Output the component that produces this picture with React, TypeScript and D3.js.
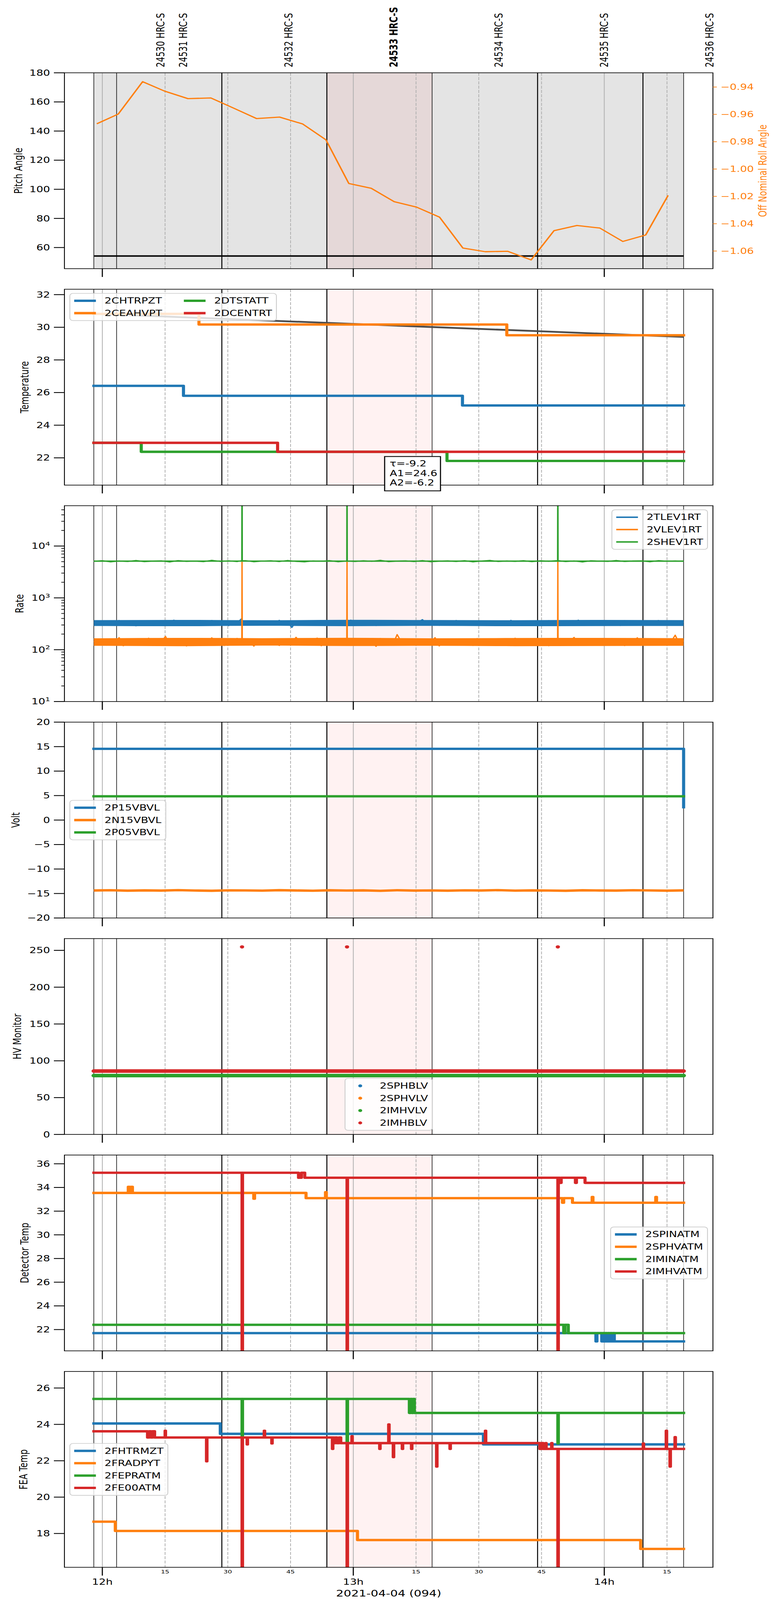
import * as d3 from 'd3';

// ---- layout (reference frame 2000 x 5400) ----
const W = 2000;
const H = 5400;
const LEFT = 165;
const RIGHT = 1825.7;
const TOP0 = 245.7;
const STEP = 730.5;
const PH = 661;
const FS = 27.8;
const FONT = 'DejaVu Sans';

const C = { blue: '#1f77b4', orange: '#ff7f0e', green: '#2ca02c', red: '#d62728' };

// ---- time axis: minutes after 12:00, 2021-04-04 ----
const T_MIN = -9.06;
const T_MAX = 145.98;
const T_START = -2.03;
const T_END = 138.97;

const hourTicks = [0, 60, 120];
const hourLabels = ['12h', '13h', '14h'];
const quarterTicks = [15, 30, 45, 75, 90, 105, 135];
const quarterLabels = ['15', '30', '45', '15', '30', '45', '15'];

const obsids = ['24530', '24531', '24532', '24533', '24534', '24535', '24536'];
const obsStarts = [-2.03, 3.41, 28.57, 53.68, 78.84, 104.06, 129.25];
const focusObsid = '24533';
const eventLines = [-2.03, 3.41, 28.57, 53.68, 78.84, 104.06, 129.25, 138.97];
const eventWidths = [1.5, 1.5, 2.5, 2.5, 1.5, 2.5, 2.5, 1.5];
const OBS_LABEL_SHIFT = 15.96;

// ---- panel 1: attitude ----
const rollTimes = [-1.32, 3.81, 9.64, 14.88, 20.47, 25.95, 31.43, 36.9, 42.38, 47.86, 53.45, 58.93, 64.29,
  69.77, 75.13, 80.61, 86.2, 91.56, 96.92, 102.51, 107.99, 113.47, 118.95, 124.43, 129.9, 135.26];
const rollValues = [-0.9669, -0.9598, -0.9361, -0.943, -0.9485, -0.948, -0.9555, -0.9631, -0.962, -0.967,
  -0.9786, -1.0106, -1.0141, -1.0239, -1.0279, -1.0352, -1.0578, -1.0605, -1.0602, -1.0665, -1.0451,
  -1.0413, -1.0432, -1.053, -1.0483, -1.0193];
const pitch: [number, number][] = [[-2.03, 54.2], [138.97, 54.2]];

// ---- panel 2: temperature (step change points) ----
const chtrpzt: [number, number][] = [[-2.03, 26.41], [19.4, 25.8], [86.1, 25.21]];
const ceahvpt: [number, number][] = [[-2.03, 30.82], [23.1, 30.17], [96.7, 29.51]];
const dtstatt: [number, number][] = [[-2.03, 22.92], [9.3, 22.37], [82.4, 21.81]];
const dcentrt: [number, number][] = [[-2.03, 22.92], [41.9, 22.37]];
const tempFit: [number, number][] = [[-2.03, 30.83], [53.68, 30.27], [104.06, 29.76], [138.97, 29.41]];
const fitText = ['τ=-9.2', 'A1=24.6', 'A2=-6.2'];

// ---- panel 3: rates ----
const tlev1rt = [
  338, 305, 352, 297, 343, 318, 366, 301, 331, 349, 288, 356, 314, 341, 299, 361, 322, 346, 306, 372,
  319, 337, 294, 359, 311, 348, 326, 300, 367, 333, 315, 351, 291, 345, 328, 392, 304, 335, 321, 356,
  298, 343, 325, 309, 369, 330, 348, 268, 353, 317, 338, 362, 305, 334, 323, 350, 296, 357, 312, 341,
  327, 373, 301, 346, 318, 337, 355, 293, 342, 326, 364, 308, 332, 352, 299, 347, 321, 339, 381, 314,
  331, 358, 295, 344, 324, 311, 367, 333, 350, 302, 336, 320, 360, 297, 345, 329, 315, 353, 306, 369,
  325, 342, 292, 356, 318, 335, 348, 304, 363, 328, 313, 351, 299, 340, 323, 372, 309, 346, 332, 317,
  357, 301, 341, 326, 349, 294, 364, 320, 338, 310, 353, 329, 346, 307, 367, 322, 340, 314, 351, 327,
  343,
];
const vlev1rt = [
  146, 128, 161, 122, 152, 137, 171, 119, 144, 158, 126, 149, 133, 167, 121, 155, 140, 181, 124, 150,
  136, 163, 118, 148, 131, 159, 142, 125, 170, 139, 153, 121, 146, 134, 166, 128, 151, 143, 117, 160,
  138, 149, 127, 162, 120, 145, 156, 131, 174, 137, 124, 152, 141, 168, 119, 147, 133, 158, 126, 144,
  155, 122, 161, 139, 130, 150, 145, 116, 165, 135, 148, 127, 196, 141, 123, 157, 136, 162, 129, 147,
  140, 171, 118, 153, 134, 145, 126, 160, 138, 149, 121, 164, 132, 151, 143, 127, 158, 137, 146, 120,
  167, 131, 150, 141, 124, 156, 135, 148, 119, 162, 139, 128, 153, 144, 173, 122, 147, 136, 159, 130,
  142, 157, 125, 164, 138, 149, 120, 152, 133, 170, 127, 145, 161, 136, 148, 123, 155, 141, 191, 129,
  150,
];
const shev1rt = [
  5080, 5210, 4950, 5150, 5020, 5260, 4990, 5120, 5180, 4930, 5240, 5060, 5130, 4980, 5300, 5040, 5170, 5010, 5220, 4960,
  5110, 5190, 5000, 5270, 5050, 4940, 5160, 5090, 5230, 4970, 5140, 5030, 5200, 5070, 5310, 4990, 5120, 5180, 5010, 5250,
  4960, 5100, 5170, 5040, 5220, 4950, 5130, 5280, 5020, 5150, 5060, 5210, 4980, 5190, 5080, 5240, 5000, 5160, 4930, 5200,
  5110, 5050, 5260, 5020, 5140, 5180, 4970, 5230, 5090, 5150, 5070,
];
// dense core of each noisy rate trace (low, high), read at the obsid boundaries
const tlevCoreLo = [287, 284, 289, 285, 288, 284, 286, 287];
const tlevCoreHi = [372, 376, 370, 377, 373, 371, 375, 372];
const vlevCoreLo = [119, 117, 120, 118, 119, 117, 118, 119];
const vlevCoreHi = [166, 169, 167, 170, 166, 168, 169, 167];
const shevCoreLo = [4960, 4950, 4970, 4955, 4960, 4950, 4965, 4960];
const shevCoreHi = [5260, 5280, 5270, 5275, 5265, 5280, 5270, 5260];
const vlevSpikes: [number, number][] = [[33.4, 4900], [58.5, 4900], [108.9, 4900]];
const shevSpikes: [number, number][] = [[33.4, 1e6], [58.5, 1e6], [108.9, 1e6]];

// ---- panel 4: voltages ----
const p15vbvl: [number, number][] = [[-2.03, 14.55], [138.97, 2.63]];
const p05vbvl: [number, number][] = [[-2.03, 4.85]];
const n15vbvl = [
  -14.38, -14.33, -14.42, -14.36, -14.4, -14.31, -14.39, -14.44, -14.35, -14.37, -14.41, -14.32,
  -14.38, -14.43, -14.34, -14.39, -14.36, -14.45, -14.33, -14.4, -14.37, -14.42, -14.35, -14.38,
  -14.31, -14.41, -14.36, -14.39, -14.44, -14.34, -14.38, -14.4, -14.33, -14.37, -14.42, -14.36,
];

// ---- panel 5: HV monitor ----
const imhblvLevel = 86.1;
const imhvlvLevel = 79.9;
const imhblvOutliers: [number, number][] = [[33.4, 254.7], [58.5, 254.7], [108.9, 254.7]];

// ---- panel 6: detector temps ----
const spinatm: [number, number][] = [[-2.03, 21.7], [118.0, 21.0], [118.25, 21.7], [119.4, 21.0], [119.7, 21.7],
  [120.0, 21.0], [120.3, 21.7], [120.6, 21.0], [120.9, 21.7], [121.2, 21.0], [121.5, 21.7], [121.8, 21.0],
  [122.1, 21.7], [122.4, 21.0]];
const sphvatm: [number, number][] = [[-2.03, 33.54], [6.2, 34.05], [6.5, 33.54], [6.9, 34.05], [7.2, 33.54],
  [36.2, 33.05], [36.4, 33.54], [48.7, 33.1], [53.35, 33.6], [53.55, 33.1], [110.0, 32.71], [110.3, 33.1],
  [112.4, 32.71], [117.1, 33.2], [117.3, 32.71], [132.3, 33.2], [132.5, 32.71]];
const iminatm: [number, number][] = [[-2.03, 22.4], [110.3, 21.7], [110.6, 22.4], [111.4, 21.7]];
const imhvatm: [number, number][] = [[-2.03, 35.24], [46.9, 34.82], [47.6, 35.24], [48.4, 34.82],
  [109.4, 34.39], [109.7, 34.82], [113.1, 34.39], [113.35, 34.82], [115.4, 34.39]];
const imhvatmSpikes: [number, number][] = [[33.4, 15], [58.5, 15], [108.9, 15]];

// ---- panel 7: FEA temps ----
const fhtrmzt: [number, number][] = [[-2.03, 24.05], [28.2, 23.48], [91.1, 22.9]];
const fradpyt: [number, number][] = [[-2.03, 18.65], [3.1, 18.14], [61.0, 17.64], [128.7, 17.15]];
const fepratm: [number, number][] = [[-2.03, 25.4], [73.4, 24.63], [73.7, 25.4], [74.0, 24.63], [74.3, 25.4], [74.6, 24.63]];
const fepratmSpikes: [number, number][] = [[33.4, 23.35], [58.5, 22.95], [108.9, 22.95]];
const fe00atm: [number, number][] = [[-2.03, 23.62], [10.8, 23.28], [11.2, 23.62], [11.6, 23.28], [12.0, 23.62],
  [12.5, 23.28], [55.3, 22.97], [55.7, 23.28], [56.1, 22.97], [56.6, 23.28], [57.0, 22.97], [104.6, 22.65],
  [105.0, 22.97], [105.4, 22.65]];
const fe00atmSpikes: [number, number][] = [[15.0, 23.65], [24.9, 21.97], [33.4, 15], [34.6, 22.9], [38.7, 23.65],
  [40.5, 22.95], [55.0, 22.65], [58.5, 15], [59.65, 23.35], [66.3, 22.65], [68.45, 24.0], [69.55, 22.2],
  [71.7, 22.65], [73.9, 22.65], [79.9, 21.68], [83.1, 22.65], [91.56, 23.65], [106.0, 22.97], [107.4, 22.97],
  [108.9, 15], [129.3, 22.95], [134.8, 23.65], [135.7, 21.68], [136.9, 23.3]];

// ---- scales ----
const x = d3.scaleLinear().domain([T_MIN, T_MAX]).range([LEFT, RIGHT]);
const top = (i: number) => TOP0 + i * STEP;
const yr = (i: number) => [top(i) + PH, top(i)];

const yPitch = d3.scaleLinear().domain([45.5, 180]).range(yr(0));
const yRoll = d3.scaleLinear().domain([-1.0729, -0.9296]).range(yr(0));
const yTemp = d3.scaleLinear().domain([20.33, 32.33]).range(yr(1));
const yRate = d3.scaleLog().domain([10, 6.0e4]).range(yr(2));
const yVolt = d3.scaleLinear().domain([-20, 20]).range(yr(3));
const yHv = d3.scaleLinear().domain([0, 266]).range(yr(4));
const yDet = d3.scaleLinear().domain([20.2, 36.74]).range(yr(5));
const yFea = d3.scaleLinear().domain([16.14, 26.91]).range(yr(6));

const minus = (s: string) => s.replace('-', '\u2212');

// ---- helpers ----
let measureCtx: CanvasRenderingContext2D | null = null;
function textW(s: string) {
  if (!measureCtx) measureCtx = document.createElement('canvas').getContext('2d');
  if (!measureCtx) return s.length * FS * 0.64;
  measureCtx.font = `${FS}px "${FONT}"`;
  return measureCtx.measureText(s).width;
}

function valueAt(steps: [number, number][], t: number) {
  let v = steps[0][1];
  for (const s of steps) if (s[0] <= t) v = s[1];
  return v;
}

function stepPoints(steps: [number, number][], spikes: [number, number][] = [], w = 0.12) {
  const pts: [number, number][] = steps.map(d => [d[0], d[1]]);
  pts.push([T_END, steps[steps.length - 1][1]]);
  spikes.forEach(([t, v]) => {
    const base = valueAt(steps, t);
    pts.push([t, v], [t + w, base]);
  });
  return pts.sort((a, b) => a[0] - b[0]);
}

function sampled(values: number[]): [number, number][] {
  const n = values.length;
  return values.map((v, i) => [T_START + ((T_END - T_START) * i) / (n - 1), v]);
}

function withSpikes(pts: [number, number][], spikes: [number, number][], w = 0.05) {
  const out = [...pts];
  spikes.forEach(([t, v]) => {
    const near = pts.reduce((a, b) => (Math.abs(b[0] - t) < Math.abs(a[0] - t) ? b : a));
    out.push([t - w, near[1]], [t, v], [t + w, near[1]]);
  });
  return out.sort((a, b) => a[0] - b[0]);
}

function StepLine({ steps, y, color, spikes, lw = 8 }: {
  steps: [number, number][]; y: d3.ScaleContinuousNumeric<number, number>; color: string;
  spikes?: [number, number][]; lw?: number;
}) {
  const line = d3.line<[number, number]>().x(d => x(d[0])).y(d => y(d[1])).curve(d3.curveStepAfter);
  return <path d={line(stepPoints(steps, spikes)) || ''} fill="none" stroke={color} strokeWidth={lw}
    strokeLinejoin="round" strokeLinecap="square" />;
}

function PolyLine({ pts, y, color, lw }: {
  pts: [number, number][]; y: d3.ScaleContinuousNumeric<number, number>; color: string; lw: number;
}) {
  const line = d3.line<[number, number]>().x(d => x(d[0])).y(d => y(d[1]));
  return <path d={line(pts) || ''} fill="none" stroke={color} strokeWidth={lw} strokeLinejoin="round" />;
}

function Core({ lo, hi, y, color }: {
  lo: number[]; hi: number[]; y: d3.ScaleContinuousNumeric<number, number>; color: string;
}) {
  const lp = sampled(lo);
  const area = d3.area<[number, number]>().x(d => x(d[0])).y0(d => y(d[1]))
    .y1((_, k) => y(hi[k])).curve(d3.curveMonotoneX);
  return <path d={area(lp) || ''} fill={color} />;
}

function Background({ i, shade }: { i: number; shade?: boolean }) {
  const t0 = top(i);
  const t1 = t0 + PH;
  const f = obsids.indexOf(focusObsid);
  return (
    <g>
      {shade && <rect x={x(T_START)} y={t0} width={x(T_END) - x(T_START)} height={PH} fill="#e4e4e4" />}
      <rect x={x(obsStarts[f])} y={t0} width={x(obsStarts[f + 1]) - x(obsStarts[f])} height={PH}
        fill="#ff0000" fillOpacity={0.05} />
      {hourTicks.map(t => (
        <line key={'h' + t} x1={x(t)} x2={x(t)} y1={t0} y2={t1} stroke="#b0b0b0" strokeWidth={2} />
      ))}
      {quarterTicks.map(t => (
        <line key={'q' + t} x1={x(t)} x2={x(t)} y1={t0} y2={t1} stroke="#b0b0b0" strokeWidth={2}
          strokeDasharray="10 4.5" />
      ))}
      {eventLines.map((t, k) => (
        <line key={'e' + k} x1={x(t)} x2={x(t)} y1={t0} y2={t1} stroke="#000" strokeWidth={eventWidths[k]} />
      ))}
    </g>
  );
}

function Axes({ i, y, ticks, fmt, label, labelX, minor }: {
  i: number; y: (v: number) => number; ticks: number[]; fmt: (v: number) => any;
  label: string; labelX: number; minor?: number[];
}) {
  const t0 = top(i);
  const t1 = t0 + PH;
  return (
    <g>
      <rect x={LEFT} y={t0} width={RIGHT - LEFT} height={PH} fill="none" stroke="#000" strokeWidth={2.2} />
      {ticks.map(v => (
        <g key={v}>
          <line x1={LEFT - 27} x2={LEFT} y1={y(v)} y2={y(v)} stroke="#000" strokeWidth={2.8} />
          <text x={LEFT - 36.7} y={y(v)} dy="0.35em" textAnchor="end" fontSize={FS}>{fmt(v)}</text>
        </g>
      ))}
      {(minor || []).map(v => (
        <line key={'m' + v} x1={LEFT - 8} x2={LEFT} y1={y(v)} y2={y(v)} stroke="#000" strokeWidth={2.2} />
      ))}
      {hourTicks.map(t => (
        <line key={'xt' + t} x1={x(t)} x2={x(t)} y1={t1} y2={t1 + 28} stroke="#000" strokeWidth={2.8} />
      ))}
      <text transform={`translate(${labelX},${t0 + PH / 2}) rotate(-90)`} textAnchor="middle" dy="0.35em"
        fontSize={FS}>{label}</text>
    </g>
  );
}

type LegendItem = { label: string; color: string; kind?: 'line' | 'dot'; lw?: number };

function Legend({ i, items, loc, ncol = 1 }: {
  i: number; items: LegendItem[]; loc: string; ncol?: number;
}) {
  const pad = 0.4 * FS, hl = 2 * FS, htp = 0.8 * FS, cs = 2 * FS, ls = 0.5 * FS, axPad = 0.5 * FS;
  const nrow = Math.ceil(items.length / ncol);
  const cols = d3.range(ncol).map(c => items.slice(c * nrow, (c + 1) * nrow));
  const colW = cols.map(col => hl + htp + (d3.max(col, d => textW(d.label)) || 0));
  const w = 2 * pad + d3.sum(colW) + (ncol - 1) * cs;
  const h = 2 * pad + nrow * FS + (nrow - 1) * ls;
  const t0 = top(i);
  const t1 = t0 + PH;
  let lx = LEFT + axPad;
  let ly = t0 + axPad;
  if (loc.includes('right')) lx = RIGHT - axPad - w;
  if (loc === 'lower center') lx = (LEFT + RIGHT) / 2 - w / 2;
  if (loc.startsWith('center')) ly = (t0 + t1) / 2 - h / 2;
  if (loc.startsWith('lower')) ly = t1 - axPad - h;
  return (
    <g>
      <rect x={lx} y={ly} width={w} height={h} rx={8} fill="#fff" fillOpacity={0.8} stroke="#cccccc"
        strokeWidth={2.2} />
      {cols.map((col, c) => {
        const cx = lx + pad + d3.sum(colW.slice(0, c)) + c * cs;
        return col.map((it, r) => {
          const cy = ly + pad + FS / 2 + r * (FS + ls);
          return (
            <g key={it.label}>
              {it.kind === 'dot'
                ? <circle cx={cx + hl / 2} cy={cy} r={5} fill={it.color} />
                : <line x1={cx} x2={cx + hl} y1={cy} y2={cy} stroke={it.color} strokeWidth={it.lw ?? 8} />}
              <text x={cx + hl + htp} y={cy} dy="0.35em" fontSize={FS}>{it.label}</text>
            </g>
          );
        });
      })}
    </g>
  );
}

function Clip({ i }: { i: number }) {
  return (
    <clipPath id={'clip' + i}>
      <rect x={LEFT} y={top(i)} width={RIGHT - LEFT} height={PH} />
    </clipPath>
  );
}

const fmtNum = (v: number) => minus(String(v));
const logMinor = [2, 3, 4, 5, 6, 7, 8, 9].flatMap(m => [10, 100, 1000, 10000].map(d => m * d)).filter(v => v < 6.0e4);

export default function App() {
  const rollPts: [number, number][] = rollTimes.map((t, k) => [t, rollValues[k]]);
  const bottom = top(6) + PH;
  const f = obsids.indexOf(focusObsid);
  // the browser window may be shorter than the figure: fit the whole figure into what is visible
  const viewH = Math.min(H, (typeof window !== 'undefined' && window.innerHeight) || H);

  return (
    <div style={{ width: W, height: viewH, overflow: 'hidden' }}>
      <style>{'html,body{margin:0;padding:0;background:#fff}'}</style>
      <svg width={W} height={viewH} viewBox={`0 0 ${W} ${H}`} preserveAspectRatio="none" fontFamily={FONT}
        style={{ display: 'block' }}>
        <rect width={W} height={H} fill="#fff" />
        <defs>{d3.range(7).map(i => <Clip key={i} i={i} />)}</defs>

        {/* obsid labels */}
        {obsids.map((o, k) => (
          <text key={o} transform={`translate(${x(obsStarts[k] + OBS_LABEL_SHIFT)},227) rotate(-90)`} dy="0.35em"
            fontSize={FS} fontWeight={k === f ? 'bold' : 'normal'}>{`${o} HRC-S`}</text>
        ))}

        {/* panel 1 */}
        <Background i={0} shade />
        <g clipPath="url(#clip0)">
          <PolyLine pts={pitch} y={yPitch} color="#000" lw={5} />
          <PolyLine pts={rollPts} y={yRoll} color={C.orange} lw={4} />
        </g>
        <Axes i={0} y={yPitch} ticks={d3.range(60, 181, 20)} fmt={fmtNum} label="Pitch Angle" labelX={47} />
        {[-1.06, -1.04, -1.02, -1.0, -0.98, -0.96, -0.94].map(v => (
          <g key={v}>
            <line x1={RIGHT} x2={RIGHT + 10} y1={yRoll(v)} y2={yRoll(v)} stroke={C.orange} strokeWidth={2.2} />
            <text x={RIGHT + 19.7} y={yRoll(v)} dy="0.35em" fontSize={FS} fill={C.orange}>{minus(v.toFixed(2))}</text>
          </g>
        ))}
        <text transform={`translate(1953,${top(0) + PH / 2}) rotate(-90)`} textAnchor="middle" dy="0.35em"
          fontSize={FS} fill={C.orange}>Off Nominal Roll Angle</text>

        {/* panel 2 */}
        <Background i={1} />
        <g clipPath="url(#clip1)">
          <PolyLine pts={tempFit} y={yTemp} color="#4d4d4d" lw={6} />
          <StepLine steps={chtrpzt} y={yTemp} color={C.blue} />
          <StepLine steps={ceahvpt} y={yTemp} color={C.orange} />
          <StepLine steps={dtstatt} y={yTemp} color={C.green} />
          <StepLine steps={dcentrt} y={yTemp} color={C.red} />
        </g>
        <Axes i={1} y={yTemp} ticks={d3.range(22, 33, 2)} fmt={fmtNum} label="Temperature" labelX={63} />
        <Legend i={1} loc="upper left" ncol={2} items={[
          { label: '2CHTRPZT', color: C.blue }, { label: '2CEAHVPT', color: C.orange },
          { label: '2DTSTATT', color: C.green }, { label: '2DCENTRT', color: C.red }]} />
        <g>
          <rect x={985} y={top(1) + 564.6} width={143} height={115.8} fill="#fff" stroke="#000" strokeWidth={2.8} />
          {fitText.map((s, k) => (
            <text key={s} x={998} y={top(1) + 588.6 + k * 32} dy="0.35em" fontSize={FS}>{s}</text>
          ))}
        </g>

        {/* panel 3 */}
        <Background i={2} />
        <g clipPath="url(#clip2)">
          <Core lo={tlevCoreLo} hi={tlevCoreHi} y={yRate} color={C.blue} />
          <PolyLine pts={sampled(tlev1rt)} y={yRate} color={C.blue} lw={3.5} />
          <Core lo={vlevCoreLo} hi={vlevCoreHi} y={yRate} color={C.orange} />
          <PolyLine pts={withSpikes(sampled(vlev1rt), vlevSpikes)} y={yRate} color={C.orange} lw={3.5} />
          <Core lo={shevCoreLo} hi={shevCoreHi} y={yRate} color={C.green} />
          <PolyLine pts={withSpikes(sampled(shev1rt), shevSpikes)} y={yRate} color={C.green} lw={3.5} />
        </g>
        <Axes i={2} y={yRate} ticks={[10, 100, 1000, 10000]} minor={logMinor} label="Rate" labelX={50}
          fmt={v => <>10<tspan dy={-11} fontSize={19.5}>{Math.round(Math.log10(v))}</tspan></>} />
        <Legend i={2} loc="upper right" items={[
          { label: '2TLEV1RT', color: C.blue, lw: 5 }, { label: '2VLEV1RT', color: C.orange, lw: 5 },
          { label: '2SHEV1RT', color: C.green, lw: 5 }]} />

        {/* panel 4 */}
        <Background i={3} />
        <g clipPath="url(#clip3)">
          <StepLine steps={p15vbvl} y={yVolt} color={C.blue} />
          <PolyLine pts={sampled(n15vbvl)} y={yVolt} color={C.orange} lw={8} />
          <StepLine steps={p05vbvl} y={yVolt} color={C.green} />
        </g>
        <Axes i={3} y={yVolt} ticks={d3.range(-20, 21, 5)} fmt={fmtNum} label="Volt" labelX={40} />
        <Legend i={3} loc="center left" items={[
          { label: '2P15VBVL', color: C.blue }, { label: '2N15VBVL', color: C.orange },
          { label: '2P05VBVL', color: C.green }]} />

        {/* panel 5 */}
        <Background i={4} />
        <g clipPath="url(#clip4)">
          <line x1={x(T_START)} x2={x(T_END)} y1={yHv(imhvlvLevel)} y2={yHv(imhvlvLevel)} stroke={C.green}
            strokeWidth={12} strokeLinecap="round" />
          <line x1={x(T_START)} x2={x(T_END)} y1={yHv(imhblvLevel)} y2={yHv(imhblvLevel)} stroke={C.red}
            strokeWidth={12} strokeLinecap="round" />
          {imhblvOutliers.map(([t, v]) => <circle key={t} cx={x(t)} cy={yHv(v)} r={5.5} fill={C.red} />)}
        </g>
        <Axes i={4} y={yHv} ticks={d3.range(0, 251, 50)} fmt={fmtNum} label="HV Monitor" labelX={44} />
        <Legend i={4} loc="lower center" items={[
          { label: '2SPHBLV', color: C.blue, kind: 'dot' }, { label: '2SPHVLV', color: C.orange, kind: 'dot' },
          { label: '2IMHVLV', color: C.green, kind: 'dot' }, { label: '2IMHBLV', color: C.red, kind: 'dot' }]} />

        {/* panel 6 */}
        <Background i={5} />
        <g clipPath="url(#clip5)">
          <StepLine steps={spinatm} y={yDet} color={C.blue} />
          <StepLine steps={sphvatm} y={yDet} color={C.orange} />
          <StepLine steps={iminatm} y={yDet} color={C.green} />
          <StepLine steps={imhvatm} y={yDet} color={C.red} spikes={imhvatmSpikes} />
        </g>
        <Axes i={5} y={yDet} ticks={d3.range(22, 37, 2)} fmt={fmtNum} label="Detector Temp" labelX={63} />
        <Legend i={5} loc="center right" items={[
          { label: '2SPINATM', color: C.blue }, { label: '2SPHVATM', color: C.orange },
          { label: '2IMINATM', color: C.green }, { label: '2IMHVATM', color: C.red }]} />

        {/* panel 7 */}
        <Background i={6} />
        <g clipPath="url(#clip6)">
          <StepLine steps={fhtrmzt} y={yFea} color={C.blue} />
          <StepLine steps={fradpyt} y={yFea} color={C.orange} />
          <StepLine steps={fepratm} y={yFea} color={C.green} spikes={fepratmSpikes} />
          <StepLine steps={fe00atm} y={yFea} color={C.red} spikes={fe00atmSpikes} />
        </g>
        <Axes i={6} y={yFea} ticks={d3.range(18, 27, 2)} fmt={fmtNum} label="FEA Temp" labelX={60} />
        <Legend i={6} loc="center left" items={[
          { label: '2FHTRMZT', color: C.blue }, { label: '2FRADPYT', color: C.orange },
          { label: '2FEPRATM', color: C.green }, { label: '2FE00ATM', color: C.red }]} />

        {/* time axis labels */}
        {quarterTicks.map((t, k) => (
          <text key={'ql' + t} x={x(t)} y={bottom + 21} textAnchor="middle" fontSize={17}>{quarterLabels[k]}</text>
        ))}
        {hourTicks.map((t, k) => (
          <text key={'hl' + t} x={x(t)} y={bottom + 59} textAnchor="middle" fontSize={FS}>{hourLabels[k]}</text>
        ))}
        <text x={(LEFT + RIGHT) / 2} y={bottom + 98} textAnchor="middle" fontSize={30.6}>2021-04-04 (094)</text>
      </svg>
    </div>
  );
}
